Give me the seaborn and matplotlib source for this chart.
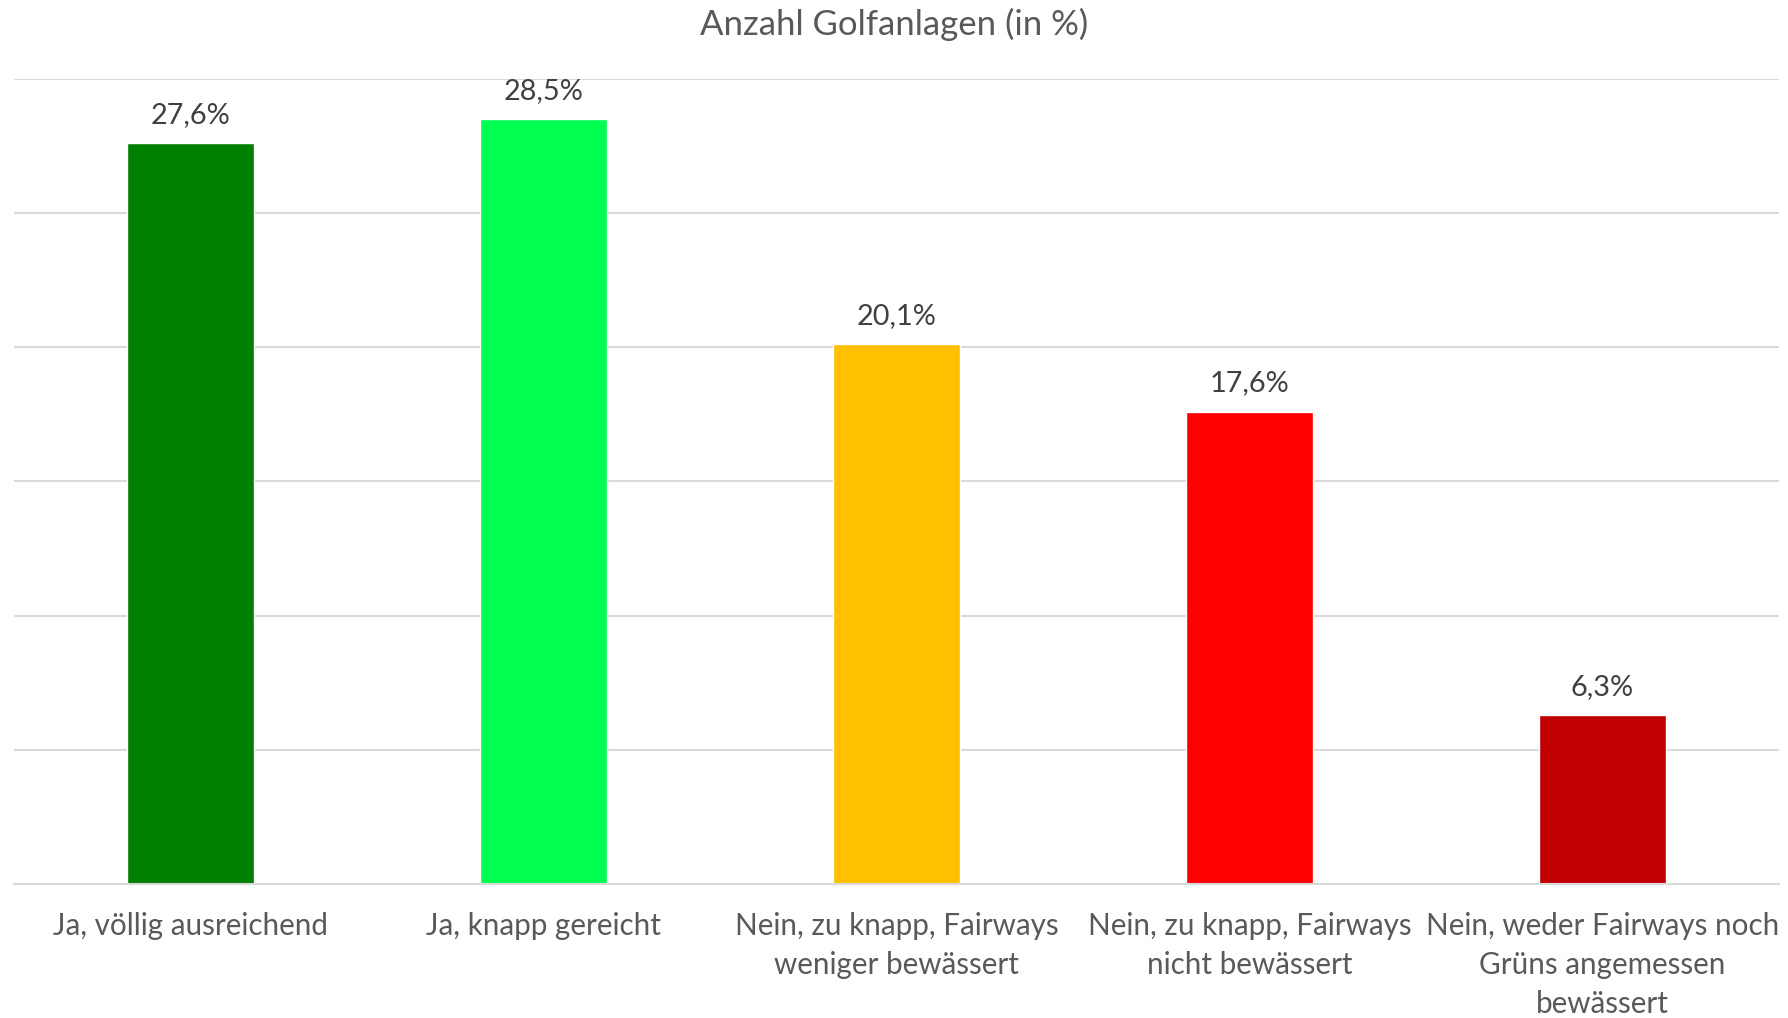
import matplotlib
matplotlib.use("Agg")
import matplotlib.pyplot as plt
import seaborn as sns
import pandas as pd

categories = [
    "Ja, völlig ausreichend",
    "Ja, knapp gereicht",
    "Nein, zu knapp, Fairways\nweniger bewässert",
    "Nein, zu knapp, Fairways\nnicht bewässert",
    "Nein, weder Fairways noch\nGrüns angemessen\nbewässert",
]
values = [27.6, 28.5, 20.1, 17.6, 6.3]
labels = ["27,6%", "28,5%", "20,1%", "17,6%", "6,3%"]
colors = ["#008000", "#00FF50", "#FFC000", "#FF0000", "#C00000"]
title = "Anzahl Golfanlagen (in %)"

sns.set_theme(style="white")
plt.rcParams["font.family"] = ["Lato", "DejaVu Sans"]

df = pd.DataFrame({"cat": categories, "val": values})

fig = plt.figure(figsize=(17.88, 10.18), dpi=100)
ax = fig.add_axes([0.0077, 0.1316, 0.9873, 0.7911])
sns.barplot(data=df, x="cat", y="val", hue="cat", palette=colors,
            width=0.36, legend=False, ax=ax, saturation=1)

ax.set_xlim(-0.5, 4.5)
ax.set_ylim(0, 30)
ax.set_yticks([0, 5, 10, 15, 20, 25, 30])
ax.yaxis.grid(True, color="#D9D9D9", linewidth=1.5)
ax.set_axisbelow(True)
ax.tick_params(axis="y", left=False, labelleft=False)
ax.tick_params(axis="x", bottom=False, pad=14)
for t in ax.get_xticklabels():
    t.set_fontsize(21.3)
    t.set_color("#595959")
    t.set_linespacing(1.48)
ax.set_xlabel("")
ax.set_ylabel("")
for s in ["top", "left", "right"]:
    ax.spines[s].set_visible(False)
ax.spines["bottom"].set_color("#D9D9D9")
ax.spines["bottom"].set_linewidth(1.5)

for i, (v, lab) in enumerate(zip(values, labels)):
    ax.annotate(lab, (i, v), xytext=(0, 11), textcoords="offset points",
                ha="center", va="bottom", fontsize=20.8, color="#404040")

fig.text(0.5, 1 - 24 / 1018, title, ha="center", va="center",
         fontsize=25, color="#595959")

fig.savefig("out.png", dpi=100)
